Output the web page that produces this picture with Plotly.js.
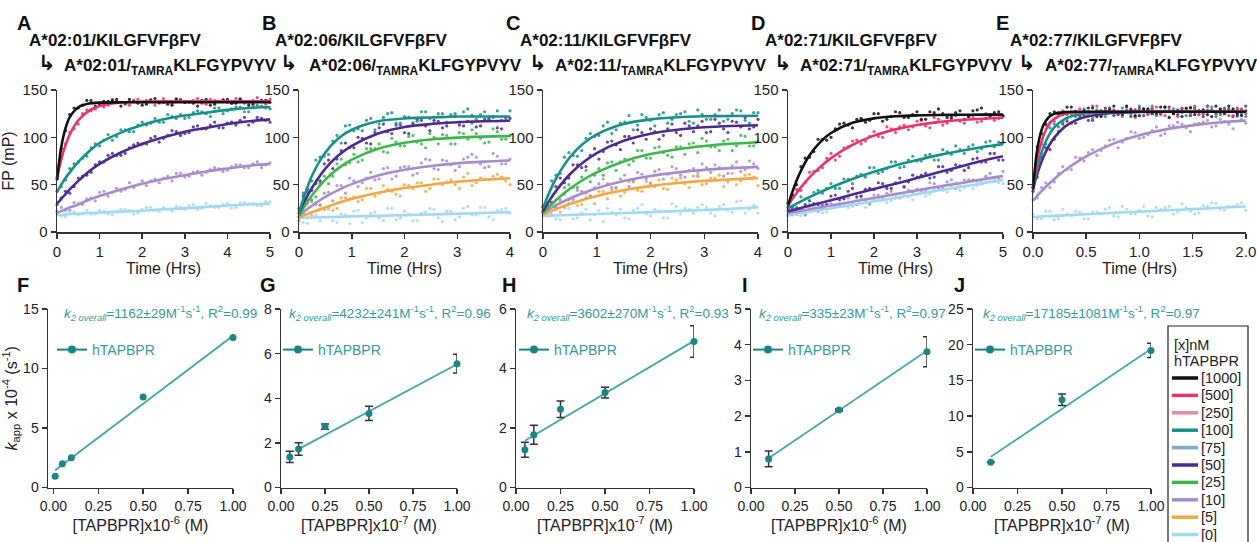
<!DOCTYPE html>
<html><head><meta charset="utf-8">
<script src="https://cdn.plot.ly/plotly-3.0.1.min.js"></script>
<style>html,body{margin:0;padding:0;background:#fff}#chart{width:1257px;height:542px}</style>
</head><body><div id="chart"></div>
<script>
// ---------------- DATA ----------------
// Panel A  A*02:01
const timeFitA = [0,0.1,0.2,0.3,0.5,0.75,1,1.5,2,2.5,3,3.5,4,4.5,5];
const timeDotA = [0,0.2,0.4,0.6,0.8,1,1.2,1.4,1.6,1.8,2,2.2,2.4,2.6,2.8,3,3.2,3.4,3.6,3.8,4,4.2,4.4,4.6,4.8,5];
const timeDotA2 = [0.1,0.3,0.5,0.7,0.9,1.1,1.3,1.5,1.7,1.9,2.1,2.3,2.5,2.7,2.9,3.1,3.3,3.5,3.7,3.9,4.1,4.3,4.5,4.7,4.9];
const fitA_1000 = [55,89.7,109.7,121.3,131.8,135.7,136.7,137,137,137,137,137,137,137,137];
const fitA_500  = [57,76.8,91.7,103,118,128,133,136.8,137.7,138,138,138,138,138,138];
const fitA_100  = [42,50,57,63,74,85,94,105,113,119,123,126,129,131,132];
const fitA_50   = [30,35,40,45,54,64,72,84,93,100,106,110,114,117,119];
const fitA_10   = [20,22,24,26,29,34,38,45,51,56,60,64,67,70,72];
const fitA_0    = [18,18,18.5,19,19.5,20,20.5,21.5,22.5,24,25,26.5,28,29,30];
const dotA_1000 = [56,107,131,134,139,135,138,140,136,138,134,139,137,135,140,137,136,139,134,138,140,136,138,135,139,137];
const dotA_500  = [58,93,109,125,128,135,134,138,135,139,137,140,136,138,141,137,139,136,140,138,137,141,136,139,138,140];
const dotA_100  = [43,55,72,78,89,91,103,101,108,106,116,115,116,124,120,120,126,127,122,131,128,132,127,132,133,130];
const dotA_50   = [29,43,48,59,63,74,81,81,83,92,93,99,95,102,106,104,111,109,113,110,115,113,121,116,120,116];
const dotA_10   = [22,23,31,29,36,42,38,46,45,47,54,54,52,59,62,58,63,60,66,67,65,71,68,72,68,73];
const dotA_0    = [19,16,21,19,19,23,19,22,24,19,24,26,22,24,27,24,29,25,28,26,30,26,31,30,28,32];
const dotA2_1000 = [88,124,131,139,133,138,139,133,140,136,135,141,137,134,139,138,133,140,135,139,136,140,134,138,139];
const dotA2_500  = [78,105,114,129,130,132,140,137,134,140,139,134,141,136,140,137,141,135,139,140,136,141,137,142,135];
const dotA2_100  = [48,67,74,80,93,97,97,108,106,113,113,120,116,122,124,121,128,125,131,125,130,132,127,134,131];
const dotA2_50   = [36,41,57,60,71,74,83,81,89,94,93,101,99,107,102,105,112,109,116,110,116,118,113,121,118];
const dotA2_10   = [26,23,30,35,33,43,42,43,52,50,49,56,57,54,62,59,64,63,68,64,69,71,68,74,71];
const dotA2_0    = [17,21,18,23,19,22,18,24,23,20,26,23,26,22,26,28,24,30,26,29,25,31,30,28,32];

// Panel B  A*02:06
const timeFitB = [0,0.1,0.25,0.5,0.75,1,1.5,2,2.5,3,3.5,4];
const timeDotB = [0,0.16,0.32,0.48,0.64,0.8,0.96,1.12,1.28,1.44,1.6,1.76,1.92,2.08,2.24,2.4,2.56,2.72,2.88,3.04,3.2,3.36,3.52,3.68,3.84,4];
const timeDotB2 = [0.08,0.24,0.4,0.56,0.72,0.88,1.04,1.2,1.36,1.52,1.68,1.84,2,2.16,2.32,2.48,2.64,2.8,2.96,3.12,3.28,3.44,3.6,3.76,3.92];
const fitB_100 = [20,38,60,84,99,108,117,120,121,122,122,122];
const fitB_50  = [20,32,47,67,81,91,104,111,114,116,117,117.5];
const fitB_25  = [17,26.6,39,55.4,67.5,76.4,88,94.3,97.8,99.7,100.7,101.3];
const fitB_10  = [17,21.7,28,37,44.5,50.6,59.6,65.7,69.7,72.5,74.3,75.5];
const fitB_5   = [15,17.5,21,26,31,35,41.4,46.4,50,53,55.2,56.8];
const fitB_0   = [15,15,15.3,15.7,16,16.5,17,17.8,18.5,19.3,20,21];
const dotB_100 = [25,42,76,80,96,94,113,109,118,108,121,126,115,121,117,127,115,125,124,116,130,119,127,121,118,128];
const dotB_50  = [16,45,51,72,67,86,89,100,94,105,114,104,113,104,119,112,118,110,122,113,117,111,119,122,109,120];
const dotB_25  = [20,34,37,59,59,77,73,74,88,88,85,99,91,101,95,89,100,103,93,105,98,104,94,109,98,102];
const dotB_10  = [12,30,29,41,33,49,57,48,57,55,67,56,68,69,62,77,67,76,71,69,79,79,68,83,72,77];
const dotB_5   = [20,15,31,24,23,36,35,32,46,38,49,43,38,49,52,43,56,50,55,46,62,52,56,59,58,50];
const dotB_0   = [20,9,18,24,12,19,9,23,15,21,12,25,15,19,12,21,24,11,22,16,27,18,26,13,24,20];
const dotB2_100 = [41,54,79,82,102,112,107,107,120,114,125,115,122,113,127,120,125,116,125,127,115,124,119,128,118];
const dotB2_50  = [38,44,54,76,77,94,89,99,93,110,106,113,105,115,118,107,117,112,122,112,123,112,120,110,121];
const dotB2_25  = [32,34,51,51,72,71,82,76,88,93,84,95,91,102,93,104,93,102,93,104,108,99,95,106,98];
const dotB2_10  = [20,32,28,42,49,41,54,52,63,56,68,59,69,60,73,76,66,75,65,77,82,72,69,80,72];
const dotB2_5   = [21,18,29,26,25,36,37,34,46,41,45,40,50,46,52,46,56,53,50,58,49,57,55,61,54];
const dotB2_0   = [10,21,12,24,10,18,22,10,20,15,25,13,22,12,20,25,15,22,13,25,18,26,16,23,25];

// Panel C  A*02:11
const timeFitC = [0,0.1,0.25,0.5,0.75,1,1.5,2,2.5,3,3.5,4];
const timeDotC = [0,0.16,0.32,0.48,0.64,0.8,0.96,1.12,1.28,1.44,1.6,1.76,1.92,2.08,2.24,2.4,2.56,2.72,2.88,3.04,3.2,3.36,3.52,3.68,3.84,4];
const timeDotC2 = [0.08,0.24,0.4,0.56,0.72,0.88,1.04,1.2,1.36,1.52,1.68,1.84,2,2.16,2.32,2.48,2.64,2.8,2.96,3.12,3.28,3.44,3.6,3.76,3.92];
const fitC_100 = [25,39.5,57.3,79,93.5,103.2,114.1,119,121.2,122.2,122.6,122.8];
const fitC_50  = [22,31.6,44,61,73.7,83.4,96.3,103.8,108,110.6,112,112.8];
const fitC_25  = [20,26,34,45.7,55.2,63,74.5,82.3,87.5,90.9,93.2,94.8];
const fitC_10  = [20,23.5,28.4,35.4,41.2,46.2,53.8,59.2,63,65.6,67.5,68.8];
const fitC_5   = [18,20.6,24.4,29.6,34.1,38.1,44.1,48.5,51.7,54,55.6,56.9];
const fitC_0   = [17,17.2,17.5,18,18.5,19,20,21,22,23.3,24.6,26];
const dotC_100 = [21,54,62,84,80,99,101,112,104,115,123,113,121,112,126,119,125,117,129,119,124,117,125,128,115,126];
const dotC_50  = [27,31,57,57,71,69,88,85,96,87,101,108,98,106,102,114,102,112,112,105,119,109,117,111,109,119];
const dotC_25  = [23,31,31,50,47,65,60,60,74,74,71,86,78,89,84,79,90,93,84,96,90,96,86,102,91,96];
const dotC_10  = [26,18,34,34,44,36,47,56,47,56,48,63,56,64,56,69,60,65,59,68,71,59,70,64,75,67];
const dotC_5   = [21,29,21,30,28,41,30,43,44,38,53,44,53,48,46,57,57,47,62,51,57,48,62,54,61,49];
const dotC_0   = [21,18,13,25,15,24,18,11,21,24,14,25,19,24,15,30,19,24,26,26,17,29,21,33,24,20];
const dotC2_100 = [30,60,79,81,86,104,102,116,108,116,108,124,118,124,115,124,127,115,124,119,129,119,129,118,126];
const dotC2_50  = [24,48,52,71,68,81,77,95,92,101,94,105,109,98,109,105,115,106,117,106,115,105,116,121,111];
const dotC2_25  = [27,26,47,47,58,53,67,73,65,77,75,86,78,90,81,90,82,94,99,90,86,98,91,101,91];
const dotC2_10  = [28,24,40,34,43,38,51,51,47,60,54,61,52,66,61,67,58,67,72,63,68,62,74,66,72];
const dotC2_5   = [17,29,27,37,29,38,43,35,46,42,53,43,50,55,45,55,51,59,50,57,60,53,50,60,58];
const dotC2_0   = [22,14,25,14,20,13,23,25,18,15,23,29,17,22,15,27,25,20,29,20,27,23,32,20,28];

// Panel D  A*02:71
const timeFitD = [0,0.1,0.2,0.3,0.5,0.75,1,1.5,2,2.5,3,3.5,4,4.5,5];
const timeDotD = [0,0.2,0.4,0.6,0.8,1,1.2,1.4,1.6,1.8,2,2.2,2.4,2.6,2.8,3,3.2,3.4,3.6,3.8,4,4.2,4.4,4.6,4.8,5];
const timeDotD2 = [0.1,0.3,0.5,0.7,0.9,1.1,1.3,1.5,1.7,1.9,2.1,2.3,2.5,2.7,2.9,3.1,3.3,3.5,3.7,3.9,4.1,4.3,4.5,4.7,4.9];
const fitD_1000 = [28,42,54.3,64.6,81,95,104.6,115.3,120,122.2,123.2,123.6,123.8,124,124];
const fitD_500  = [28,34.9,41.2,47.1,57.6,68.8,78.1,92.1,101.8,108.4,113,116.1,118.3,119.7,120.8];
const fitD_100  = [25,27.5,29.9,32.3,36.8,42.1,47,55.9,63.6,70.3,76,81.2,85.6,89.5,92.8];
const fitD_50   = [22,23,24.2,25.4,27.8,30.7,33.5,39.5,45.5,51,57,63,69,75,80];
const fitD_10   = [20,20.8,21.6,22.4,24,26,28,32,36,40,44,48,51.5,55.5,59];
const fitD_0    = [18,18.7,19.4,20.1,21.5,23.3,25,28.7,32.4,36,40,44,47.5,51.3,55];
const dotD_1000 = [31,50,78,85,98,100,114,113,119,116,125,117,122,126,121,127,119,126,125,121,128,122,129,120,126,123];
const dotD_500  = [23,45,52,64,68,83,80,90,97,96,106,100,109,111,108,117,112,121,113,119,117,122,116,125,118,122];
const dotD_100  = [30,26,35,42,41,51,46,56,59,58,68,64,74,68,76,75,81,76,87,82,87,90,85,95,90,94];
const dotD_50   = [26,19,29,30,28,38,34,43,37,45,45,51,46,57,53,58,62,58,69,65,70,68,78,74,83,76];
const dotD_10   = [18,23,18,29,25,30,27,36,29,34,39,36,43,36,44,45,43,51,47,55,48,55,54,59,54,64];
const dotD_0    = [17,22,18,27,20,25,30,26,34,26,35,35,33,41,37,45,38,45,44,49,44,54,49,53,57,51];
const dotD2_1000 = [39,69,79,98,97,109,115,110,120,118,125,119,127,121,124,119,127,130,121,126,119,128,131,122,127];
const dotD2_500  = [39,44,63,65,78,76,89,96,93,101,101,111,105,113,111,118,110,119,115,123,115,121,117,124,120];
const dotD2_100  = [26,37,33,44,46,46,56,51,61,68,62,67,74,69,80,75,82,76,85,91,83,92,88,96,95];
const dotD2_50   = [26,21,33,29,29,39,35,46,38,46,52,46,52,48,60,60,57,69,63,71,65,77,74,83,76];
const dotD2_10   = [18,24,29,22,28,27,36,29,38,30,39,41,36,47,42,42,52,46,53,46,55,55,51,62,56];
const dotD2_0    = [21,17,26,22,21,29,29,27,36,29,36,31,40,39,34,45,40,47,42,52,47,46,53,56,52];

// Panel E  A*02:77
const timeFitE = [0,0.03,0.06,0.1,0.15,0.2,0.3,0.4,0.5,0.75,1,1.25,1.5,1.75,2];
const timeDotE = [0,0.08,0.16,0.24,0.32,0.4,0.48,0.56,0.64,0.72,0.8,0.88,0.96,1.04,1.12,1.2,1.28,1.36,1.44,1.52,1.6,1.68,1.76,1.84,1.92,2];
const timeDotE2 = [0.04,0.12,0.2,0.28,0.36,0.44,0.52,0.6,0.68,0.76,0.84,0.92,1,1.08,1.16,1.24,1.32,1.4,1.48,1.56,1.64,1.72,1.8,1.88,1.96];
const fitE_1000 = [45,79.2,99.1,113.5,121.5,124.8,126.6,127,127,127,127,127,127,127,127];
const fitE_500  = [45,69.8,87,102.3,113.5,119.5,124.8,126.3,126.8,127,127,127,127,127,127];
const fitE_100  = [45,62.5,76.2,90.2,102.3,110.4,119.5,123.6,125.5,126.8,127,127,127,127,127];
const fitE_50   = [45,57.5,68,79.7,91.1,99.7,111.3,117.9,121.8,125.7,126.7,127,127,127,127];
const fitE_10   = [33,36.9,40.7,45.4,50.9,56,65.2,73.1,80,93.1,102.2,108.4,112.6,115.6,117.6];
const fitE_0    = [16,16,16.2,16.5,16.8,17,17.6,18.2,18.8,20.2,21.5,22.9,24.2,25.6,27];
const dotE_1000 = [47,104,125,125,132,124,128,131,122,129,126,133,123,130,125,132,121,128,131,124,129,122,130,133,125,128];
const dotE_500  = [50,93,116,126,120,128,126,133,123,130,125,132,121,128,131,124,129,122,130,133,125,128,129,123,130,125];
const dotE_100  = [47,83,110,111,124,122,130,120,128,131,124,129,122,130,133,125,128,129,123,130,125,132,124,128,131,122];
const dotE_50   = [43,79,87,106,117,115,123,118,128,131,124,127,129,123,130,125,132,124,128,131,122,129,126,130,123,133];
const dotE_10   = [34,47,47,62,66,79,75,87,86,97,89,99,105,100,107,102,112,116,110,114,116,111,119,114,122,115];
const dotE_0    = [19,14,22,14,19,22,14,21,19,26,16,24,19,27,16,24,27,21,26,19,28,31,24,27,29,23];
const dotE2_1000 = [90,114,127,124,132,125,131,122,128,133,124,129,123,130,126,132,125,122,131,128,124,133,125,130,123];
const dotE2_500  = [74,113,117,128,125,130,123,133,125,128,122,130,129,124,132,123,128,131,125,124,133,126,129,123,130];
const dotE2_100  = [70,93,114,116,127,121,127,129,122,129,131,124,133,125,123,128,130,126,132,124,129,122,131,128,125];
const dotE2_50   = [58,89,98,114,115,123,118,126,131,123,127,122,131,129,124,132,125,130,123,128,133,125,130,122,129];
const dotE2_10   = [36,52,53,69,66,78,84,81,91,98,95,106,99,103,111,104,112,114,106,115,118,112,117,109,119];
const dotE2_0    = [14,22,13,24,17,21,14,21,24,17,27,19,23,17,26,26,19,30,22,20,27,30,23,27,31];

// Bottom row: k_app vs [TAPBPR]
const concF = [0.01,0.05,0.1,0.5,1.0];
const kappF = [0.95,2.0,2.5,7.6,12.6];
const fitXF = [0.01,1.0];
const fitYF = [1.45,12.75];
const concG = [0.05,0.1,0.25,0.5,1.0];
const kappG = [1.37,1.73,2.73,3.32,5.55];
const errG  = [0.25,0.28,0.12,0.32,0.42];
const fitXG = [0.1,1.0];
const fitYG = [1.72,5.52];
const concH = [0.05,0.1,0.25,0.5,1.0];
const kappH = [1.27,1.77,2.63,3.19,4.91];
const errH  = [0.25,0.32,0.28,0.18,0.53];
const fitXH = [0.05,1.0];
const fitYH = [1.57,4.93];
const concI = [0.1,0.5,1.0];
const kappI = [0.8,2.17,3.8];
const errI  = [0.22,0.03,0.42];
const fitXI = [0.1,1.0];
const fitYI = [0.82,3.83];
const concJ = [0.1,0.5,1.0];
const kappJ = [3.55,12.3,19.2];
const errJ  = [0,0.8,1.0];
const fitXJ = [0.1,1.0];
const fitYJ = [4.3,19.4];

const k2Values = ['1162±29','4232±241','3602±270','335±23','17185±1081'];
const r2Values = ['0.99','0.96','0.93','0.97','0.97'];
const alleles  = ['A*02:01','A*02:06','A*02:11','A*02:71','A*02:77'];
const panelLetters = ['A','B','C','D','E','F','G','H','I','J'];
const legendTitle = ['[x]nM','hTAPBPR'];
const legendLabels = ['[1000]','[500]','[250]','[100]','[75]','[50]','[25]','[10]','[5]','[0]'];
const tickTop5 = [0,1,2,3,4,5];
const tickTop4 = [0,1,2,3,4];
const tickTop2 = [0,0.5,1,1.5,2];
const tickBotX = [0,0.25,0.5,0.75,1];

// ---------------- STYLE ----------------
const W = 1257, H = 542;
const px = x => x / W, py = y => 1 - y / H;
const FONT = 'Liberation Sans, Arial, Helvetica, DejaVu Sans, sans-serif';
const COL = {'[1000]':'#111111','[500]':'#e8336f','[250]':'#e38aa9','[100]':'#16908b','[75]':'#78a9d8',
             '[50]':'#4a2a8c','[25]':'#3db54b','[10]':'#a78ccc','[5]':'#f4a742','[0]':'#a3d8f1'};
const TEAL_TXT = '#3699a0', TEAL_PT = '#1b8486', TEAL_LINE = '#45a6a8';

const topPanels = [
  {x0:57,  x1:270,  range:[0,5],     tv:tickTop5, fmt:'d',   fitT:timeFitA, dotT:timeDotA, dotT2:timeDotA2,
   s:[['[10]',fitA_10,dotA_10,dotA2_10],['[0]',fitA_0,dotA_0,dotA2_0],['[50]',fitA_50,dotA_50,dotA2_50],['[100]',fitA_100,dotA_100,dotA2_100],['[500]',fitA_500,dotA_500,dotA2_500],['[1000]',fitA_1000,dotA_1000,dotA2_1000]]},
  {x0:299, x1:510,  range:[0,4],     tv:tickTop4, fmt:'d',   fitT:timeFitB, dotT:timeDotB, dotT2:timeDotB2,
   s:[['[0]',fitB_0,dotB_0,dotB2_0],['[5]',fitB_5,dotB_5,dotB2_5],['[10]',fitB_10,dotB_10,dotB2_10],['[25]',fitB_25,dotB_25,dotB2_25],['[50]',fitB_50,dotB_50,dotB2_50],['[100]',fitB_100,dotB_100,dotB2_100]]},
  {x0:543, x1:758,  range:[0,4],     tv:tickTop4, fmt:'d',   fitT:timeFitC, dotT:timeDotC, dotT2:timeDotC2,
   s:[['[0]',fitC_0,dotC_0,dotC2_0],['[5]',fitC_5,dotC_5,dotC2_5],['[10]',fitC_10,dotC_10,dotC2_10],['[25]',fitC_25,dotC_25,dotC2_25],['[50]',fitC_50,dotC_50,dotC2_50],['[100]',fitC_100,dotC_100,dotC2_100]]},
  {x0:788, x1:1003, range:[0,5],     tv:tickTop5, fmt:'d',   fitT:timeFitD, dotT:timeDotD, dotT2:timeDotD2,
   s:[['[0]',fitD_0,dotD_0,dotD2_0],['[10]',fitD_10,dotD_10,dotD2_10],['[50]',fitD_50,dotD_50,dotD2_50],['[100]',fitD_100,dotD_100,dotD2_100],['[500]',fitD_500,dotD_500,dotD2_500],['[1000]',fitD_1000,dotD_1000,dotD2_1000]]},
  {x0:1033,x1:1246, range:[0,2.002], tv:tickTop2, fmt:'.1f', fitT:timeFitE, dotT:timeDotE, dotT2:timeDotE2,
   s:[['[0]',fitE_0,dotE_0,dotE2_0],['[10]',fitE_10,dotE_10,dotE2_10],['[50]',fitE_50,dotE_50,dotE2_50],['[100]',fitE_100,dotE_100,dotE2_100],['[500]',fitE_500,dotE_500,dotE2_500],['[1000]',fitE_1000,dotE_1000,dotE2_1000]]}
];
const botPanels = [
  {x0:48,  x1:233,  xr:[-0.03,1], yr:[0,15], dy:5, pw:-6, x:concF, y:kappF, e:null, fx:fitXF, fy:fitYF, tx:62,  lx:52},
  {x0:281, x1:457,  xr:[0,1],     yr:[0,8],  dy:2, pw:-7, x:concG, y:kappG, e:errG, fx:fitXG, fy:fitYG, tx:287, lx:278},
  {x0:516, x1:694,  xr:[0,1],     yr:[0,6],  dy:2, pw:-7, x:concH, y:kappH, e:errH, fx:fitXH, fy:fitYH, tx:525, lx:514},
  {x0:751, x1:927,  xr:[0,1],     yr:[0,5],  dy:1, pw:-6, x:concI, y:kappI, e:errI, fx:fitXI, fy:fitYI, tx:757, lx:748},
  {x0:973, x1:1151, xr:[0,1],     yr:[0,25], dy:5, pw:-7, x:concJ, y:kappJ, e:errJ, fx:fitXJ, fy:fitYJ, tx:981, lx:970}
];

function axisBase(extra, fs) {
  return Object.assign({
    showline:true, linecolor:'#333', linewidth:1.5, ticks:'outside', ticklen:5, tickwidth:1.5,
    tickcolor:'#333', showgrid:false, zeroline:false, fixedrange:true, automargin:false,
    tickfont:{family:FONT, size:fs, color:'#222'}
  }, extra);
}

const traces = [];
const layout = {
  width:W, height:H, margin:{l:0,r:0,t:0,b:0,autoexpand:false}, paper_bgcolor:'#fff', plot_bgcolor:'rgba(0,0,0,0)',
  font:{family:FONT, color:'#222'}, annotations:[], shapes:[], hovermode:false
};

// Top row
topPanels.forEach((p, i) => {
  const n = i + 1, xs = n === 1 ? '' : String(n);
  layout['xaxis' + xs] = axisBase({domain:[px(p.x0), px(p.x1)], range:p.range, tickvals:p.tv,
    tickformat:p.fmt, anchor:'y' + xs, title:{text:'Time (Hrs)', font:{size:16, color:'#222'}, standoff:4}}, 15);
  const ya = {domain:[py(232), py(90)], range:[0,150], tickvals:[0,50,100,150], anchor:'x' + xs};
  if (n === 1) ya.title = {text:'FP (mP)', font:{size:16, color:'#222'}, standoff:6};
  layout['yaxis' + xs] = axisBase(ya, 15);
  p.s.forEach(([c, fit, dots, dots2]) => {
    traces.push({x:p.dotT.concat(p.dotT2), y:dots.concat(dots2), xaxis:'x' + xs, yaxis:'y' + xs, type:'scatter', mode:'markers',
      marker:{color:COL[c], size:3.2, opacity:0.85}, showlegend:false, cliponaxis:false, name:c});
  });
  p.s.forEach(([c, fit]) => {
    traces.push({x:p.fitT, y:fit, xaxis:'x' + xs, yaxis:'y' + xs, type:'scatter', mode:'lines',
      line:{color:COL[c], width:2.6, shape:'spline', smoothing:0.8}, showlegend:false, cliponaxis:false, name:c});
  });
  // Titles
  const l1 = [27,273,518,763,1008][i], ar = [36,278,527,772,1016][i], t2 = [62,307,553,798,1043][i];
  layout.annotations.push(
    {text:'<b>' + alleles[i] + '/KILGFVFβFV</b>', x:px(l1), y:py(41), xref:'paper', yref:'paper',
     xanchor:'left', yanchor:'middle', showarrow:false, font:{family:FONT, size:17, color:'#111'}},
    {text:'<b>↳</b>', x:px(ar), y:py(63), xref:'paper', yref:'paper', xanchor:'left', yanchor:'middle',
     showarrow:false, font:{family:'DejaVu Sans, sans-serif', size:21, color:'#111'}},
    {text:'<b>' + alleles[i] + '/<sub>TAMRA</sub>KLFGYPVYV</b>', x:px(t2), y:py(67), xref:'paper', yref:'paper',
     xanchor:'left', yanchor:'middle', showarrow:false, font:{family:FONT, size:17, color:'#111'}},
    {text:'<b>' + panelLetters[i] + '</b>', x:px([15,260,504,749,994][i]), y:py(23), xref:'paper', yref:'paper',
     xanchor:'left', yanchor:'middle', showarrow:false, font:{family:FONT, size:20, color:'#111'}}
  );
});

// Bottom row
botPanels.forEach((p, j) => {
  const n = j + 6, xs = String(n);
  layout['xaxis' + xs] = axisBase({domain:[px(p.x0), px(p.x1)], range:p.xr, tickvals:tickBotX,
    tickformat:'.2f', anchor:'y' + xs,
    title:{text:'[TAPBPR]x10<sup>' + p.pw + '</sup> (M)', font:{size:16, color:'#222'}, standoff:6}}, 14);
  const ya = {domain:[py(487.5), py(309)], range:p.yr, dtick:p.dy, tick0:0, anchor:'x' + xs};
  if (j === 0) ya.title = {text:'<i>k</i><sub>app</sub> x 10<sup>-4</sup> (s<sup>-1</sup>)', font:{size:16, color:'#222'}, standoff:6};
  layout['yaxis' + xs] = axisBase(ya, 14);
  traces.push({x:p.fx, y:p.fy, xaxis:'x' + xs, yaxis:'y' + xs, type:'scatter', mode:'lines',
    line:{color:TEAL_LINE, width:1.8}, showlegend:false, cliponaxis:false, name:'fit'});
  const pt = {x:p.x, y:p.y, xaxis:'x' + xs, yaxis:'y' + xs, type:'scatter', mode:'markers',
    marker:{color:TEAL_PT, size:7}, showlegend:false, cliponaxis:false, name:'hTAPBPR'};
  if (p.e) pt.error_y = {type:'data', array:p.e, visible:true, color:'#333', thickness:1.5, width:4};
  traces.push(pt);
  const lg = j === 0 ? 'legend' : 'legend' + (j + 1);
  traces.push({x:[null], y:[null], xaxis:'x' + xs, yaxis:'y' + xs, type:'scatter', mode:'lines+markers',
    line:{color:TEAL_PT, width:2}, marker:{color:TEAL_PT, size:8}, name:'hTAPBPR', legend:lg, showlegend:true});
  layout[lg] = {x:px(p.lx), y:py(350), xanchor:'left', yanchor:'middle', bgcolor:'rgba(0,0,0,0)',
    borderwidth:0, font:{family:FONT, size:14, color:TEAL_TXT}, itemwidth:30};
  layout.annotations.push(
    {text:'<i>k</i><sub><i>2 overall</i></sub>=' + k2Values[j] + 'M<sup>-1</sup>s<sup>-1</sup>, R<sup>2</sup>=' + r2Values[j],
     x:px(p.tx), y:py(313), xref:'paper', yref:'paper', xanchor:'left', yanchor:'middle', showarrow:false,
     font:{family:FONT, size:13.5, color:TEAL_TXT}},
    {text:'<b>' + panelLetters[j + 5] + '</b>', x:px([15,258,500,740,952][j]), y:py(285), xref:'paper', yref:'paper',
     xanchor:'left', yanchor:'middle', showarrow:false, font:{family:FONT, size:20, color:'#111'}}
  );
});

// Concentration key (box at the bottom right, cut by the page edge as in the figure)
const keyLeft = 1168, keyTop = 326, keyStep = 17.4, keyFirst = 378;
layout.shapes.push({type:'rect', xref:'paper', yref:'paper', x0:px(keyLeft), x1:px(1248), y0:py(560), y1:py(keyTop),
  line:{color:'#222', width:1.2}, fillcolor:'rgba(255,255,255,0)'});
legendTitle.forEach((t, k) => layout.annotations.push({text:t, x:px(keyLeft + 4), y:py(345 + k * 15.5), xref:'paper', yref:'paper',
  xanchor:'left', yanchor:'middle', showarrow:false, font:{family:FONT, size:14.5, color:'#222'}}));
legendLabels.forEach((c, k) => {
  const yy = keyFirst + k * keyStep;
  layout.shapes.push({type:'line', xref:'paper', yref:'paper', x0:px(1172), x1:px(1198), y0:py(yy), y1:py(yy),
    line:{color:COL[c], width:3.5}});
  layout.annotations.push({text:c, x:px(1199), y:py(yy), xref:'paper', yref:'paper', xanchor:'left', yanchor:'middle',
    showarrow:false, font:{family:FONT, size:14.5, color:'#222'}});
});

Plotly.newPlot('chart', traces, layout, {staticPlot:true, displayModeBar:false});
</script></body></html>
